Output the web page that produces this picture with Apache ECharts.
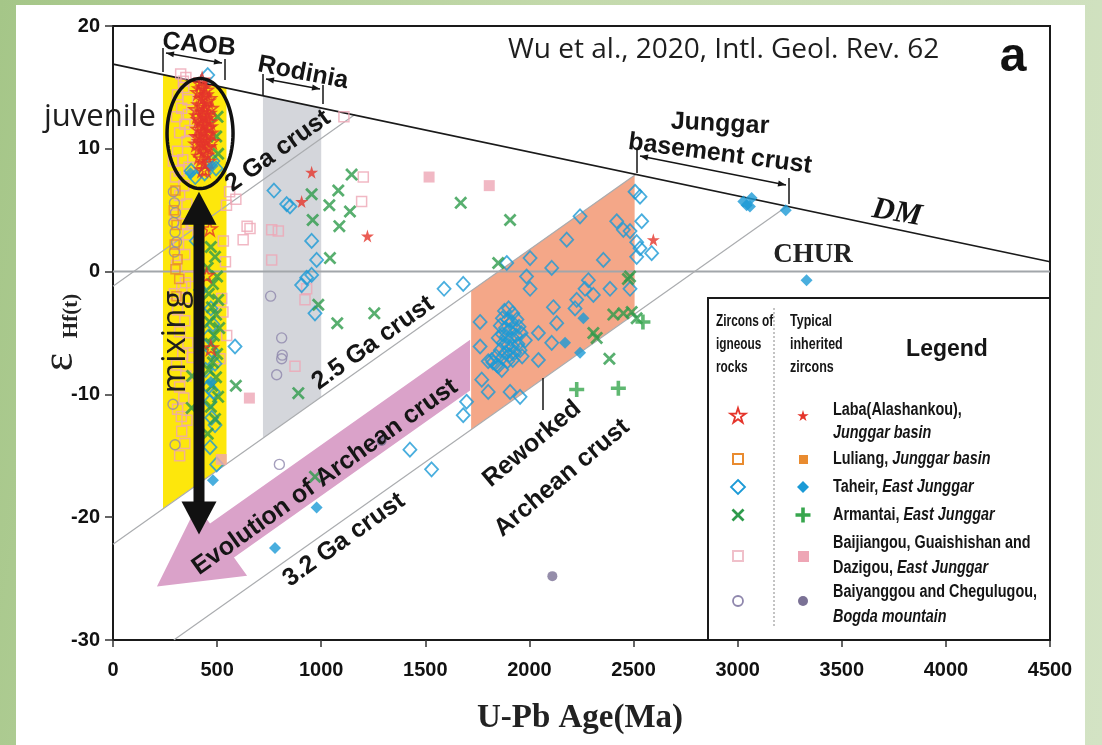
<!DOCTYPE html>
<html>
<head>
<meta charset="utf-8">
<script src="https://cdn.jsdelivr.net/npm/echarts/dist/echarts.min.js"></script>
<style>
html, body { margin: 0; padding: 0; }
body { width: 1102px; height: 745px; position: relative; overflow: hidden;
  background: linear-gradient(100deg, #a5c688 0%, #c3d9ab 45%, #d3e3c4 100%); }
#panel { position: absolute; left: 16px; top: 5px; width: 1069px; height: 740px; background: #fff; }
#main { position: absolute; left: 0; top: 0; width: 1102px; height: 745px; }
</style>
</head>
<body>
<div id="panel"></div>
<div id="main"></div>
<script>
// axis ticks
const xTicks = { min: 0, max: 4500, step: 500 };
const yTicks = { min: -30, max: 20, step: 10 };

// reference curves  [age Ma, eHf]
const dmLine = [[0, 16.9], [4500, 0.8]];
const churLine = [[0, 0], [4500, 0]];
const crust2Ga = [[0, -1.2], [1162, 12.8]];
const crust25Ga = [[0, -22.2], [2510, 7.9]];
const crust32Ga = [[292, -30], [3235, 5.3]];

// shaded fields
const caobZone = [[240, -19.3], [240, 16.04], [545, 14.95], [545, -15.66]];
const rodiniaZone = [[720, -13.56], [720, 14.32], [1000, 13.32], [1000, -10.2]];
const reworkedZone = [[1720, -12.86], [1720, -1.56], [2505, 7.86], [2505, -3.44]];
const archeanArrow = [[211, -25.65], [403, -19.06], [466, -20.52], [1715, -5.54], [1715, -9.69], [581, -23.29], [644, -24.76]];

// juvenile ellipse centre and mixing arrow tips
const ellipseCenter = [418, 11.24];
const mixTop = [413, 6.5];
const mixBottom = [413, -21.4];

// zircons of igneous rocks (open symbols) / inherited zircons (filled)
const labaIgn = [
  [420,15.3],[435,15.0],[410,14.6],[445,14.4],[425,14.1],[455,13.9],[415,13.6],[440,13.4],[430,13.0],[460,12.9],
  [405,12.7],[450,12.5],[420,12.3],[440,12.0],[465,11.8],[410,11.6],[432,11.4],[452,11.2],[420,11.0],[445,10.7],
  [428,10.4],[460,10.2],[412,10.0],[438,9.8],[450,9.5],[425,9.2],[442,8.8],[430,8.3],[418,14.9],[448,14.8],
  [400,13.2],[470,13.3],[405,11.0],[470,11.3],[415,9.4],[458,9.0],[435,12.7],[425,12.0],[445,13.0],[455,11.7],
  [437,14.2],[412,12.4],[466,12.2],[428,15.6],[433,10.9],[418,10.6],[450,10.1],[462,14.1],[400,10.4],[475,10.6],
  [445,8.3],[450,-0.3],[465,3.5],[470,-6.2]
];
const labaInh = [[954,8.1],[906,5.7],[1222,2.9],[2595,2.6]];

const luliangIgn = [[300,6.6],[292,5.0],[305,3.8],[296,2.2],[310,1.0],[300,0.2],[318,-0.6],[305,-2.0]];
const luliangInh = [];

const taheirIgn = [
  [455,16.0],[375,8.2],[395,7.7],[480,9.0],[495,8.4],[440,8.0],[400,2.5],[420,-1.5],[470,-3.0],[480,-4.3],
  [458,-5.3],[474,-6.4],[490,-7.5],[445,-8.0],[458,-9.4],[482,-9.8],[466,-10.6],[474,-11.9],[490,-12.5],[466,-14.3],
  [498,-15.7],[586,-6.1],
  [773,6.6],[834,5.5],[850,5.3],[954,2.5],[978,0.95],[954,-0.27],[930,-0.5],[906,-1.1],[970,-3.4],
  [1590,-1.4],[1682,-1.0],[1426,-14.5],[1530,-16.1],[1698,-10.6],[1682,-11.7],
  [2507,6.5],[2531,6.1],[2243,4.5],[2179,2.6],[2003,1.1],[2107,0.3],[2355,0.95],[2419,4.1],[2451,3.4],
  [2483,3.3],[2539,4.1],[2515,2.4],[2531,1.9],[2515,1.2],[2587,1.5],[1986,-0.4],[2003,-1.4],[2283,-0.7],
  [2267,-1.4],[2307,-1.9],[2227,-2.3],[2219,-3.0],[2387,-1.4],[2483,-1.4],[2115,-2.9],[2131,-4.2],[1763,-4.1],
  [1763,-6.1],[2043,-5.0],[2107,-5.8],[2043,-7.2],[1802,-7.3],[1771,-8.8],[1802,-9.8],[1907,-9.8],[1955,-10.2],
  [1891,0.7],[1819,-7.2],[1843,-7.6],[1867,-8.0],
  [1880,-3.2],[1900,-3.0],[1920,-3.4],[1870,-3.8],[1895,-3.9],[1915,-4.1],[1940,-3.9],[1860,-4.4],[1885,-4.6],
  [1905,-4.8],[1930,-4.6],[1950,-4.5],[1870,-5.1],[1890,-5.3],[1910,-5.5],[1935,-5.2],[1960,-5.0],[1875,-5.8],
  [1895,-6.0],[1920,-6.1],[1945,-5.9],[1860,-6.4],[1885,-6.6],[1905,-6.8],[1930,-6.6],[1955,-6.4],[1870,-7.0],
  [1895,-7.3],[1920,-7.2],[1980,-5.6],[1850,-5.4],[1965,-6.9],[1840,-6.9],[1825,-7.4],[1850,-7.7]
];
const taheirInh = [[3027,5.7],[3067,6.0],[3059,5.3],[3043,5.4],[3231,5.0],[3331,-0.7],[978,-19.2],[778,-22.5],
  [480,-17.0],[2259,-3.8],[2171,-5.8],[2243,-6.6],[372,8.0],[478,8.6],[470,-9.0]];

const armantaiIgn = [
  [470,2.0],[490,1.2],[455,0.3],[500,-0.4],[480,-1.0],[460,-1.8],[505,-2.3],[475,-2.9],[495,-3.5],[465,-4.1],
  [510,-4.6],[485,-5.2],[470,-5.9],[500,-6.7],[480,-7.4],[460,-8.0],[495,-8.6],[475,-9.3],[505,-10.2],[380,-8.5],
  [378,-11.1],[490,-12.0],[470,-11.0],[455,-13.2],[502,12.6],[496,11.0],[505,9.6],[590,-9.3],
  [1146,7.9],[1082,6.6],[954,6.3],[1039,5.4],[1138,4.9],[959,4.2],[1087,3.7],[1042,1.1],[1670,5.6],[986,-2.7],
  [1077,-4.2],[1255,-3.4],[890,-9.9],[970,-16.7],[1907,4.2],[1850,0.7],[2483,-0.4],[2403,-3.5],[2451,-3.4],
  [2491,-3.3],[2515,-3.8],[2307,-5.0],[2323,-5.4],[2384,-7.1],[2473,-0.6]
];
const armantaiInh = [[2227,-9.6],[2427,-9.5],[2545,-4.1]];

const baijiangouIgn = [
  [325,16.1],[350,15.8],[340,15.0],[310,14.4],[360,14.0],[330,13.3],[305,12.6],[345,12.0],[320,11.3],[355,10.6],
  [310,9.8],[335,9.1],[365,8.5],[300,7.7],[340,7.0],[320,6.2],[355,5.5],[300,4.6],[335,3.9],[360,3.0],
  [315,2.2],[345,1.4],[305,0.5],[365,-0.4],[330,-1.3],[350,-2.2],[310,-3.1],[345,-4.0],[320,-4.9],[360,-5.8],
  [335,-6.7],[305,-7.6],[350,-8.5],[320,-9.4],[340,-10.3],[310,-11.2],[355,-12.1],[330,-13.0],[345,-14.0],[320,-15.0],
  [370,11.5],[375,4.0],[290,9.0],[295,-1.8],[380,-7.0],[338,15.5],[362,12.8],[318,8.2],[348,-0.9],[328,-11.8],
  [522,-2.2],[528,-3.3],[546,-5.2],[514,-7.1],[540,0.8],[530,2.5],[560,6.5],[590,5.9],[545,5.4],
  [644,3.7],[625,2.6],[1109,12.6],[1202,7.7],[1194,5.7],[658,3.5],[762,3.4],[794,3.3],[762,0.95],[930,-1.4],
  [922,-2.3],[874,-7.7]
];
const baijiangouInh = [[1518,7.7],[1807,7.0],[655,-10.3],[520,-15.3]];

const baiyanggouIgn = [[290,6.5],[295,5.6],[300,4.8],[292,4.0],[298,3.2],[305,2.4],[295,1.6],[288,-10.8],[298,-14.1],
  [757,-2.0],[810,-5.4],[813,-6.8],[810,-7.1],[786,-8.4],[799,-15.7]];
const baiyanggouInh = [[2110,-24.8],[1290,-13.8]];

// symbol outlines on a 0..100 box
const starShape = [[50,0],[61,35],[98,35],[68,57],[79,91],[50,70],[21,91],[32,57],[2,35],[39,35]];
const crossShape = [[0,15],[15,0],[50,35],[85,0],[100,15],[65,50],[100,85],[85,100],[50,65],[15,100],[0,85],[35,50]];
const plusShape = [[38,0],[62,0],[62,38],[100,38],[100,62],[62,62],[62,100],[38,100],[38,62],[0,62],[0,38],[38,38]];
const diamondShape = [[50,0],[100,50],[50,100],[0,50]];

function toPath(t) {
  return 'path://M' + t.map(p => p.join(',')).join(' L') + ' Z';
}

const RED = '#e5352b', ORANGE = '#e98b2f', BLUE = '#1b9ad6', GREEN = '#2e9b4b',
  PINK = '#eea6b5', PURPLE = '#8f87ad', PURPLE_F = '#7a7195';

function scatter(name, data, symbol, size, style, z) {
  return { name, type: 'scatter', data, symbol, symbolSize: size, itemStyle: style, z: z || 3, silent: true };
}

const zones = [
  { pts: caobZone, color: '#fde70c' },
  { pts: rodiniaZone, color: '#d4d6db' },
  { pts: reworkedZone, color: '#f4a788' },
  { pts: archeanArrow, color: '#daa2c9' }
];

const chart = echarts.init(document.getElementById('main'));

const TXT = '"Liberation Sans", Arial, sans-serif';
const SER = '"Liberation Serif", "DejaVu Serif", serif';
const OPEN = '"Open Sans", "Noto Sans", sans-serif';

function text(x, y, str, font, opts) {
  opts = opts || {};
  return {
    type: 'text', x, y, rotation: opts.rot || 0, scaleX: opts.sx || 1, z: 50,
    style: {
      text: str, font, fill: opts.color || '#151515',
      align: opts.align || 'center', textAlign: opts.align || 'center',
      verticalAlign: 'middle', textVerticalAlign: 'middle', rich: opts.rich
    }
  };
}
function seg(x1, y1, x2, y2, w, color, dash) {
  return { type: 'line', z: 50, shape: { x1, y1, x2, y2 }, style: { stroke: color || '#151515', lineWidth: w || 1.5, lineDash: dash } };
}
function head(px, py, fx, fy) {
  const dx = px - fx, dy = py - fy, l = Math.hypot(dx, dy), ux = dx / l, uy = dy / l;
  const bx = px - ux * 8, by = py - uy * 8;
  return { type: 'polygon', z: 50, shape: { points: [[px, py], [bx - uy * 3, by + ux * 3], [bx + uy * 3, by - ux * 3]] }, style: { fill: '#151515' } };
}
function bracket(a, b, t1, t2) {
  return [seg(a[0], a[1], b[0], b[1], 1.3), head(a[0], a[1], b[0], b[1]), head(b[0], b[1], a[0], a[1]),
    seg(t1[0], t1[1], t1[0], t1[2], 1.5), seg(t2[0], t2[1], t2[0], t2[2], 1.5)];
}
function marker(shape, cx, cy, s, style) {
  return { type: 'polygon', z: 60, shape: { points: shape.map(p => [cx - s / 2 + p[0] * s / 100, cy - s / 2 + p[1] * s / 100]) }, style };
}

const legendRows = [
  { ign: marker(starShape, 738, 416, 16, { fill: 'none', stroke: RED, lineWidth: 1.8 }),
    inh: marker(starShape, 803, 416, 12, { fill: RED }), lines: [[410, 'Laba(Alashankou),'], [433, '{i|Junggar basin}']] },
  { ign: { type: 'rect', z: 60, shape: { x: 733, y: 454, width: 10, height: 10 }, style: { fill: 'none', stroke: ORANGE, lineWidth: 2 } },
    inh: { type: 'rect', z: 60, shape: { x: 799, y: 455, width: 9, height: 9 }, style: { fill: ORANGE } }, lines: [[459, 'Luliang, {i|Junggar basin}']] },
  { ign: marker(diamondShape, 738, 487, 14, { fill: 'none', stroke: BLUE, lineWidth: 1.8 }),
    inh: marker(diamondShape, 803, 487, 12, { fill: BLUE }), lines: [[487, 'Taheir, {i|East Junggar}']] },
  { ign: marker(crossShape, 738, 515, 13, { fill: GREEN }),
    inh: marker(plusShape, 803, 515, 15, { fill: '#37a64d' }), lines: [[515, 'Armantai, {i|East Junggar}']] },
  { ign: { type: 'rect', z: 60, shape: { x: 733, y: 551, width: 10, height: 10 }, style: { fill: 'none', stroke: '#f0c0ca', lineWidth: 2 } },
    inh: { type: 'rect', z: 60, shape: { x: 798, y: 551, width: 11, height: 11 }, style: { fill: PINK } },
    lines: [[543, 'Baijiangou, Guaishishan and'], [568, 'Dazigou, {i|East Junggar}']] },
  { ign: { type: 'circle', z: 60, shape: { cx: 738, cy: 601, r: 5 }, style: { fill: 'none', stroke: PURPLE, lineWidth: 1.8 } },
    inh: { type: 'circle', z: 60, shape: { cx: 803, cy: 601, r: 5 }, style: { fill: PURPLE_F } },
    lines: [[592, 'Baiyanggou and Chegulugou,'], [617, '{i|Bogda mountain}']] }
];

const HDR = 'bold 16px ' + TXT;
const legendItems = [
  { type: 'rect', z: 45, shape: { x: 708, y: 298, width: 342, height: 342 }, style: { fill: '#fff', stroke: '#1a1a1a', lineWidth: 2 } },
  seg(774, 308, 774, 628, 1, '#888', [2, 2]),
  text(716, 322, 'Zircons of', HDR, { align: 'left', sx: 0.74 }),
  text(716, 345, 'igneous', HDR, { align: 'left', sx: 0.74 }),
  text(716, 368, 'rocks', HDR, { align: 'left', sx: 0.74 }),
  text(790, 322, 'Typical', HDR, { align: 'left', sx: 0.78 }),
  text(790, 345, 'inherited', HDR, { align: 'left', sx: 0.78 }),
  text(790, 368, 'zircons', HDR, { align: 'left', sx: 0.78 }),
  text(947, 350, 'Legend', 'bold 23px ' + TXT)
];
legendRows.forEach(r => {
  legendItems.push(r.ign, r.inh);
  r.lines.forEach(l => legendItems.push(text(833, l[0], l[1], 'bold 18px ' + TXT, {
    align: 'left', sx: 0.8, rich: { i: { font: 'italic bold 18px ' + TXT, fill: '#151515' } }
  })));
});

const LBL = 'bold 25px ' + TXT;
const notes = [
  text(508, 50, 'Wu et al., 2020, Intl. Geol. Rev. 62', '28px ' + OPEN, { align: 'left', color: '#1e1e1e' }),
  text(1013, 58, 'a', 'bold 48px ' + TXT, { color: '#111' }),
  text(44, 117, 'juvenile', '31px ' + OPEN, { align: 'left', color: '#1e1e1e' }),
  text(176, 342, 'mixing', '33px ' + OPEN, { rot: Math.PI / 2, color: '#1e1e1e' }),
  text(199, 45, 'CAOB', LBL, { rot: -0.1 }),
  text(303, 73, 'Rodinia', LBL, { rot: -0.19 }),
  text(720, 124, 'Junggar', LBL, { rot: -0.05 }),
  text(720, 154, 'basement crust', LBL, { rot: -0.13 }),
  text(897, 213, 'DM', 'bold italic 31px ' + SER, { rot: -0.17 }),
  text(813, 255, 'CHUR', 'bold 27px ' + SER, { color: '#222' }),
  text(278, 151, '2 Ga crust', LBL, { rot: 0.62 }),
  text(373, 343, '2.5 Ga crust', LBL, { rot: 0.62 }),
  text(344, 540, '3.2 Ga crust', LBL, { rot: 0.62 }),
  text(325, 477, 'Evolution of Archean crust', LBL, { rot: 0.62 }),
  text(532, 444, 'Reworked', LBL, { rot: 0.7 }),
  text(562, 478, 'Archean crust', LBL, { rot: 0.7 }),
  seg(543, 378, 543, 410, 1.5),
  text(60, 362, 'ε', '44px ' + SER, { rot: Math.PI / 2, color: '#222' }),
  text(72, 316, 'Hf(t)', 'bold 21px ' + SER, { rot: Math.PI / 2, color: '#222' }),
  text(580, 718, 'U-Pb Age(Ma)', 'bold 33px ' + SER, { color: '#222' })
].concat(
  bracket([166, 53], [222, 63], [163, 48, 72], [225, 59, 80]),
  bracket([266, 79], [320, 89], [263, 74, 95], [323, 85, 104]),
  bracket([640, 156], [786, 185], [637, 149, 173], [789, 178, 204])
);

const option = {
  animation: false,
  grid: { left: 113, right: 52, top: 26, bottom: 105, show: true, borderColor: '#1a1a1a', borderWidth: 2 },
  xAxis: {
    type: 'value', min: xTicks.min, max: xTicks.max, interval: xTicks.step,
    axisLine: { onZero: false, lineStyle: { color: '#1a1a1a', width: 2 } },
    axisTick: { length: 7, lineStyle: { color: '#333', width: 1.5 } },
    axisLabel: { margin: 20, fontFamily: TXT, fontWeight: 'bold', fontSize: 20, color: '#111', formatter: v => String(v) },
    splitLine: { show: false }
  },
  yAxis: {
    type: 'value', min: yTicks.min, max: yTicks.max, interval: yTicks.step,
    axisLine: { onZero: false, lineStyle: { color: '#1a1a1a', width: 2 } },
    axisTick: { length: 8, lineStyle: { color: '#333', width: 1.5 } },
    axisLabel: { margin: 13, fontFamily: TXT, fontWeight: 'bold', fontSize: 20, color: '#111', formatter: v => String(v) },
    splitLine: { show: false }
  },
  graphic: { elements: notes.concat(legendItems) },
  series: [
    {
      type: 'custom', silent: true, z: 1,
      data: zones.map(zn => zn.pts[0]),
      renderItem: function (params, api) {
        const zn = zones[params.dataIndex];
        return { type: 'polygon', shape: { points: zn.pts.map(p => api.coord(p)) }, style: { fill: zn.color } };
      }
    },
    { type: 'line', data: churLine, symbol: 'none', silent: true, z: 2, lineStyle: { color: '#a2a6aa', width: 2 } },
    { type: 'line', data: crust2Ga, symbol: 'none', silent: true, z: 2, lineStyle: { color: '#aaacaf', width: 1.2 } },
    { type: 'line', data: crust25Ga, symbol: 'none', silent: true, z: 2, lineStyle: { color: '#aaacaf', width: 1.2 } },
    { type: 'line', data: crust32Ga, symbol: 'none', silent: true, z: 2, lineStyle: { color: '#aaacaf', width: 1.2 } },
    { type: 'line', data: dmLine, symbol: 'none', silent: true, z: 2, lineStyle: { color: '#1a1a1a', width: 1.7 } },
    scatter('Baijiangou', baijiangouIgn, 'rect', 10, { color: 'rgba(255,255,255,0)', borderColor: PINK, borderWidth: 1.5 }),
    scatter('Baiyanggou', baiyanggouIgn, 'circle', 10, { color: 'rgba(255,255,255,0)', borderColor: PURPLE, borderWidth: 1.4 }),
    scatter('Luliang', luliangIgn, 'rect', 9, { color: 'rgba(255,255,255,0)', borderColor: ORANGE, borderWidth: 1.5 }),
    scatter('Taheir', taheirIgn, 'diamond', [13, 14], { color: 'rgba(255,255,255,0)', borderColor: BLUE, borderWidth: 1.8 }),
    scatter('Armantai', armantaiIgn, toPath(crossShape), 13, { color: GREEN }),
    scatter('Laba', labaIgn, toPath(starShape), 14, { color: 'rgba(255,255,255,0)', borderColor: RED, borderWidth: 1.6 }),
    scatter('Baijiangou inh', baijiangouInh, 'rect', 11, { color: PINK }, 4),
    scatter('Baiyanggou inh', baiyanggouInh, 'circle', 10, { color: PURPLE_F }, 4),
    scatter('Luliang inh', luliangInh, 'rect', 9, { color: ORANGE }, 4),
    scatter('Taheir inh', taheirInh, 'diamond', 12, { color: BLUE }, 4),
    scatter('Armantai inh', armantaiInh, toPath(plusShape), 15, { color: '#37a64d' }, 4),
    scatter('Laba inh', labaInh, toPath(starShape), 13, { color: RED }, 4),
    {
      type: 'custom', silent: true, z: 10,
      data: [ellipseCenter],
      renderItem: function (params, api) {
        const c = api.coord(ellipseCenter);
        const ring = [];
        for (let k = 0; k < 90; k++) {
          const a = k / 90 * 2 * Math.PI;
          ring.push([c[0] + 33 * Math.cos(a), c[1] + 55 * Math.sin(a)]);
        }
        const t = api.coord(mixTop), b = api.coord(mixBottom);
        return {
          type: 'group', children: [
            { type: 'polygon', shape: { points: ring }, style: { fill: 'none', stroke: '#111', lineWidth: 3.5 } },
            { type: 'rect', shape: { x: t[0] - 5.5, y: t[1] + 30, width: 11, height: b[1] - t[1] - 60 }, style: { fill: '#111' } },
            { type: 'polygon', shape: { points: [[t[0], t[1]], [t[0] - 17.5, t[1] + 33], [t[0] + 17.5, t[1] + 33]] }, style: { fill: '#111' } },
            { type: 'polygon', shape: { points: [[b[0], b[1]], [b[0] - 17.5, b[1] - 33], [b[0] + 17.5, b[1] - 33]] }, style: { fill: '#111' } }
          ]
        };
      }
    }
  ]
};

chart.setOption(option);
</script>
</body>
</html>
